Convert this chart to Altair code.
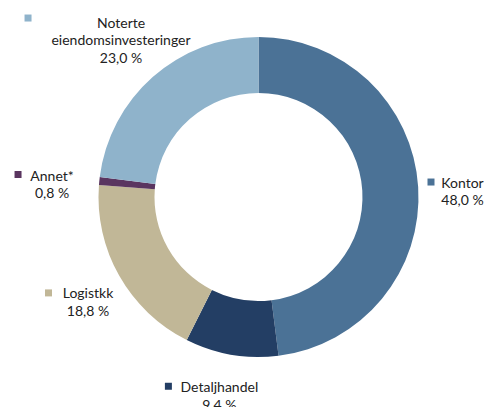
import altair as alt
import pandas as pd

# ---- data ----
categories = ["Kontor", "Detaljhandel", "Logistkk", "Annet*", "Noterte eiendomsinvesteringer"]
label_names = ["Kontor", "Detaljhandel", "Logistkk", "Annet*", "Noterte\neiendomsinvesteringer"]
values = [48.0, 9.4, 18.8, 0.8, 23.0]
colors = ["#4b7296", "#233e64", "#c1b797", "#5a3560", "#8fb3cb"]

# ---- layout ----
CX, CY = 250.5, 189
R_OUT, R_IN = 160, 104
R_LABEL = 205
label_dx = [-0.6, -4.5, 7.9, -2.5, -1.9]
label_dy = [-0.6, -11, -3.6, 0.3, -19.7]
marker_dx = [-31.5, -51, -39.5, -34, -93]
marker_dy = [-1.5, -1.8, -1.5, -2.2, -5.5]

df = pd.DataFrame({
    "cat": categories,
    "value": values,
    "order": list(range(len(categories))),
    "label": [f"{n}\n{v:.1f}".replace(".", ",") + " %" for n, v in zip(label_names, values)],
    "ldx": label_dx,
    "ldy": label_dy,
    "mdx": marker_dx,
    "mdy": marker_dy,
})

color_scale = alt.Scale(domain=categories, range=colors)

arcs = alt.Chart(df).mark_arc(innerRadius=R_IN, outerRadius=R_OUT).encode(
    theta=alt.Theta("value:Q", stack=True),
    color=alt.Color("cat:N", scale=color_scale, legend=None),
    order=alt.Order("order:Q"),
    x=alt.value(CX),
    y=alt.value(CY),
)

base = alt.Chart(df).transform_joinaggregate(
    total="sum(value)"
).transform_window(
    cum="sum(value)", sort=[alt.SortField("order")], frame=[None, 0]
).transform_calculate(
    mid="(datum.cum - datum.value/2) / datum.total * 2 * PI"
).transform_calculate(
    lx=f"{CX} + {R_LABEL} * sin(datum.mid) + datum.ldx",
    ly=f"{CY} - {R_LABEL} * cos(datum.mid) + datum.ldy",
).transform_calculate(
    mx="datum.lx + datum.mdx",
    my="datum.ly + datum.mdy",
)

labels = base.mark_text(
    lineBreak="\n", align="center", baseline="middle",
    font="Lato", fontSize=14, lineHeight=17.5, color="#222222",
).encode(
    x=alt.X("lx:Q", scale=None),
    y=alt.Y("ly:Q", scale=None),
    text="label:N",
)

markers = base.mark_square(size=49, opacity=1).encode(
    x=alt.X("mx:Q", scale=None),
    y=alt.Y("my:Q", scale=None),
    color=alt.Color("cat:N", scale=color_scale, legend=None),
)

chart = alt.layer(arcs, labels, markers).properties(
    width=476, height=399, autosize="none", padding=0
).configure_view(stroke=None)

chart.save("out.html", embed_options={"renderer": "svg", "actions": False})
